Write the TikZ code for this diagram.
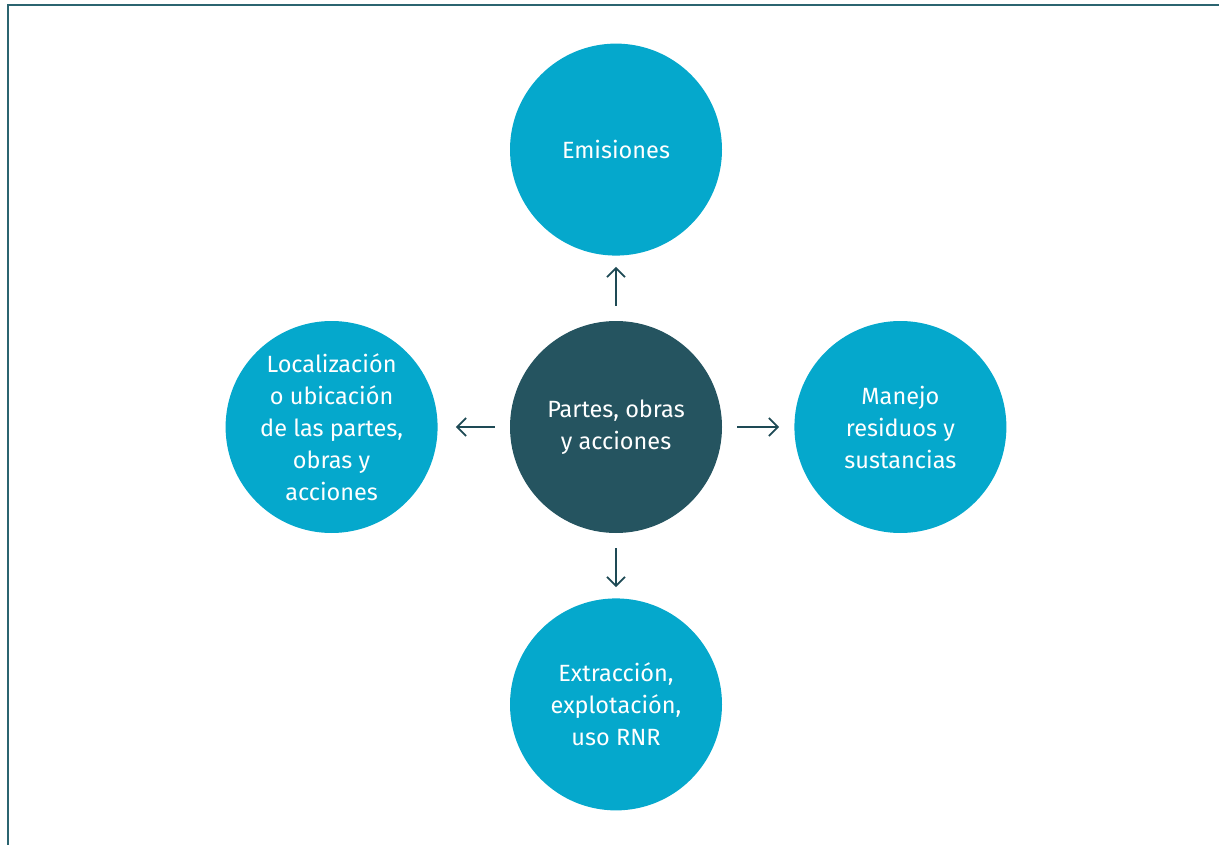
\documentclass[tikz,border=0pt]{standalone}
\usepackage{fontspec}
\setmainfont{Fira Sans}
\usepackage{tikz}
\usetikzlibrary{arrows.meta}
\usetikzlibrary{positioning}

\definecolor{aspecto}{HTML}{05A8CC}
\definecolor{nucleo}{HTML}{255460}
\definecolor{marco}{HTML}{2B6470}
\definecolor{flecha}{HTML}{1E4A55}

\tikzset{
  circulo/.style={circle, minimum size=212pt, inner sep=0pt, align=center,
    text=white, font=\fontsize{23.5}{32}\selectfont},
  flechita/.style={-{Straight Barb[length=9pt,width=18pt]}, line width=1.8pt,
    color=flecha, shorten <=15pt, shorten >=11pt}
}

\begin{document}
\begin{tikzpicture}[x=1pt,y=-1pt]
\useasboundingbox (0,0) rectangle (1219,845);
\draw[marco, line width=2pt] (8,845) -- (8,5) -- (1219,5);

\node[circulo, fill=nucleo] (centro) at (616,427) {Partes, obras\\y acciones};
\node[circulo, fill=aspecto, above=65pt of centro] (emisiones) {Emisiones};
\node[circulo, fill=aspecto, below=65pt of centro] (extraccion) {Extracción,\\explotación,\\uso RNR};
\node[circulo, fill=aspecto, left=72pt of centro] (localizacion) {Localización\\o ubicación\\de las partes,\\obras y\\acciones};
\node[circulo, fill=aspecto, right=72pt of centro] (manejo) {Manejo\\residuos y\\sustancias};

\draw[flechita] (centro) -- (emisiones);
\draw[flechita] (centro) -- (extraccion);
\draw[flechita, shorten >=18pt] (centro) -- (localizacion);
\draw[flechita, shorten >=15pt] (centro) -- (manejo);
\end{tikzpicture}
\end{document}
